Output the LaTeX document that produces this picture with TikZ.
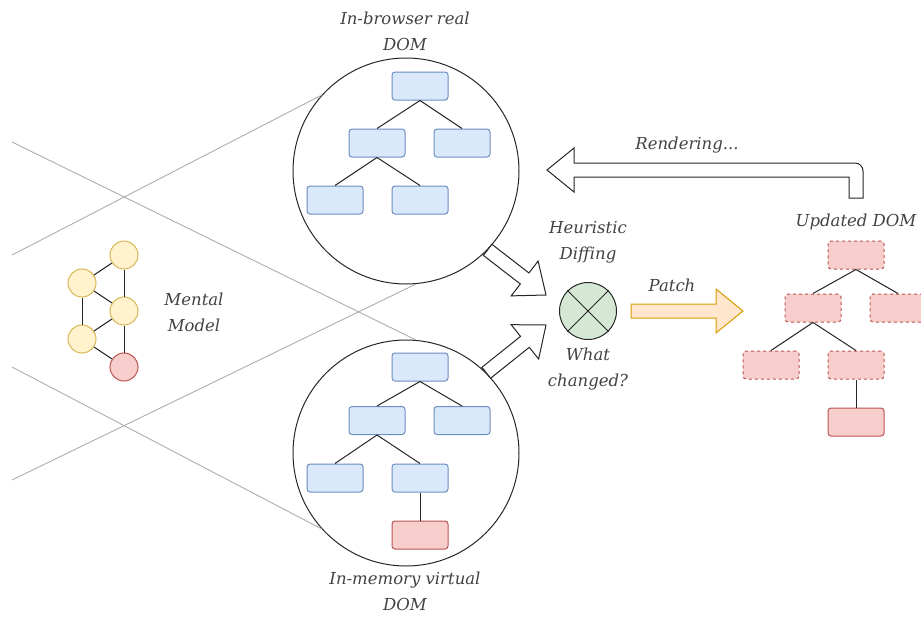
\documentclass[tikz,border=0pt]{standalone}
\usepackage{fontspec}
\setmainfont{DejaVu Serif}
\usetikzlibrary{positioning,calc}

\definecolor{domfill}{HTML}{DAE8FC}
\definecolor{domline}{HTML}{6C8EBF}
\definecolor{redfill}{HTML}{F8CECC}
\definecolor{redline}{HTML}{B85450}
\definecolor{ideafill}{HTML}{FFF2CC}
\definecolor{idealine}{HTML}{D6B656}
\definecolor{difffill}{HTML}{D5E8D4}
\definecolor{patchfill}{HTML}{FFE6CC}
\definecolor{patchline}{HTML}{D79B00}
\definecolor{labeltext}{HTML}{424242}

% wide block arrow: shaft 14pt, head 44pt wide and 27pt long
\newcommand{\fatarrow}[3][]{%
  \coordinate (fa-s) at (#2);
  \coordinate (fa-e) at (#3);
  \coordinate (fa-b) at ($(fa-e)!27pt!(fa-s)$);
  \draw[#1] ($(fa-s)!7pt!90:(fa-e)$) -- ($(fa-b)!7pt!-90:(fa-s)$)
    -- ($(fa-b)!22pt!-90:(fa-s)$) -- (fa-e) -- ($(fa-b)!22pt!90:(fa-s)$)
    -- ($(fa-b)!7pt!90:(fa-s)$) -- ($(fa-s)!7pt!-90:(fa-e)$) -- cycle;
}

\begin{document}
\begin{tikzpicture}[x=1pt,y=-1pt,
  domnode/.style={draw=domline,fill=domfill,rounded corners=3pt,minimum width=56pt,minimum height=28pt,inner sep=0pt,line width=1pt},
  addnode/.style={domnode,draw=redline,fill=redfill},
  patchnode/.style={addnode,dashed},
  idea/.style={circle,draw=idealine,fill=ideafill,minimum size=28pt,inner sep=0pt,line width=1pt},
  lens/.style={circle,draw=black!85,minimum size=226pt,inner sep=0pt,line width=1pt},
  lbl/.style={align=center,text=labeltext,font=\itshape\fontsize{16.5}{26}\selectfont},
  link/.style={draw=black!85,line width=1pt},
  zoomline/.style={draw=black!32,line width=0.9pt},
  hollow/.style={draw=black!85,fill=white,line width=1pt},
  patcharrow/.style={draw=patchline,fill=patchfill,line width=1pt}
]
\useasboundingbox (0,0) rectangle (921,616);

% magnifier lines from the mental model
\coordinate (z1) at (12,142);
\coordinate (z2) at (12,255);
\coordinate (z3) at (12,367);
\coordinate (z4) at (12,480);
\node[lens] (real) at (406,171) {};
\node[lens] (virt) at (406,453) {};
\draw[zoomline] (z1) -- (virt.85);
\draw[zoomline] (z2) -- (real.138);
\draw[zoomline] (z3) -- (virt.-138);
\draw[zoomline] (z4) -- (real.-85);

% mental model
\node[idea] (m1) at (124,255) {};
\node[idea] (m2) at (82,283) {};
\node[idea] (m3) at (124,311) {};
\node[idea] (m4) at (82,339) {};
\node[idea,draw=redline,fill=redfill] (m5) at (124,367) {};
\draw[link] (m2) -- (m1);
\draw[link] (m2) -- (m3);
\draw[link] (m2) -- (m4);
\draw[link] (m1) -- (m3);
\draw[link] (m4) -- (m3);
\draw[link] (m3) -- (m5);
\draw[link] (m4) -- (m5);
\node[lbl] (mental) at (194,312) {Mental\\Model};

% real DOM
\node[domnode] (r0) at (420,86) {};
\node[domnode,below=28pt of r0,xshift=-43pt] (r1) {};
\node[domnode,below=28pt of r0,xshift=42pt] (r2) {};
\node[domnode,below=28pt of r1,xshift=-42pt] (r3) {};
\node[domnode,below=28pt of r1,xshift=43pt] (r4) {};
\foreach \a/\b in {r0/r1,r0/r2,r1/r3,r1/r4}
  \draw[link] (\a.south) -- (\b.north);
\node[lbl] (reallbl) at (405,31) {In-browser real\\DOM};

% virtual DOM
\node[domnode] (v0) at (420,367) {};
\node[domnode,below=24.5pt of v0,xshift=-43pt] (v1) {};
\node[domnode,below=24.5pt of v0,xshift=42pt] (v2) {};
\node[domnode,below=28.5pt of v1,xshift=-42pt] (v3) {};
\node[domnode,below=28.5pt of v1,xshift=43pt] (v4) {};
\node[addnode,below=28pt of v4] (v5) {};
\foreach \a/\b in {v0/v1,v0/v2,v1/v3,v1/v4,v4/v5}
  \draw[link] (\a.south) -- (\b.north);
\node[lbl] (virtlbl) at (405,591) {In-memory virtual\\DOM};

% diffing
\node[circle,draw=black!85,fill=difffill,minimum size=57pt,inner sep=0pt,line width=1pt] (diff) at (588,311) {};
\draw[link] (diff.45) -- (diff.-135);
\draw[link] (diff.135) -- (diff.-45);
\node[lbl] (heur) at (588,242) {Heuristic\\Diffing};
\node[lbl] (what) at (588,369) {What\\changed?};
\coordinate (in1) at (546,295);
\coordinate (in2) at (546,325);
\fatarrow[hollow]{real.-44}{in1}
\fatarrow[hollow]{virt.45}{in2}

% patch
\coordinate (p-s) at ($(diff.east)+(14,0)$);
\coordinate (p-e) at (743,311);
\fatarrow[patcharrow]{p-s}{p-e}
\node[lbl] (patch) at (672,285) {Patch};

% updated DOM
\node[patchnode] (u0) at (856,255) {};
\node[patchnode,below=24pt of u0,xshift=-43pt] (u1) {};
\node[patchnode,below=24pt of u0,xshift=42pt] (u2) {};
\node[patchnode,below=28pt of u1,xshift=-42pt] (u3) {};
\node[patchnode,below=28pt of u1,xshift=43pt] (u4) {};
\node[addnode,below=28pt of u4] (u5) {};
\foreach \a/\b in {u0/u1,u0/u2,u1/u3,u1/u4,u4/u5}
  \draw[link] (\a.south) -- (\b.north);
\node[lbl] (updlbl) at (856,222) {Updated DOM};

% rendering back to the browser
\coordinate (rend-s) at (856,198);
\coordinate (rend-e) at (547,170);
\draw[hollow] ($(rend-s)+(-7,0)$) |- ($(rend-e)+(27,7)$) -- ++(0,15) -- (rend-e)
  -- ++(27,-22) -- ++(0,15) -- ($(rend-s)+(-1,-35)$)
  arc[start angle=-90,end angle=0,radius=8] -- ($(rend-s)+(7,0)$) -- cycle;
\node[lbl] (render) at (687,145) {Rendering...};
\end{tikzpicture}
\end{document}
